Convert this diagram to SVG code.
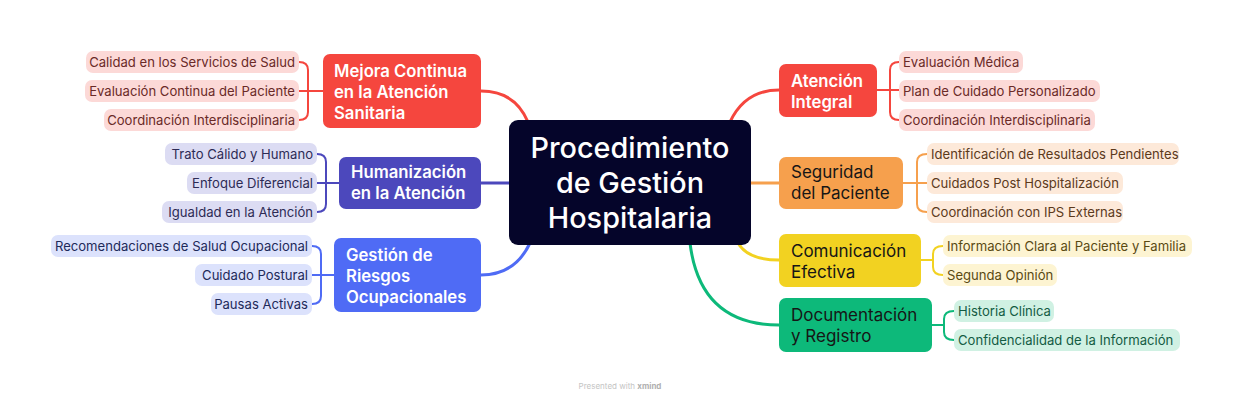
<svg xmlns="http://www.w3.org/2000/svg" width="1242" height="402" viewBox="0 0 1242 402">
<style>
text{font-family:Inter,"Open Sans",sans-serif}
.ct{font-size:28.8px;fill:#fff;font-weight:500;text-anchor:middle}
.mt{font-size:16.7px;font-weight:600;fill:#fff}
.md{font-size:17px;fill:#161616}
.ch{font-size:13.1px}
.lc{fill:none;stroke-width:3;stroke-linecap:round}
.bc{fill:none;stroke-width:2}
.r{stroke:#F5463E}.i{stroke:#4C48BC}.b{stroke:#4F6BF5}.o{stroke:#F6A04D}.y{stroke:#F2D221}.g{stroke:#0DB97A}
.pr{fill:#FCD9D7}.tr{fill:#6A2A27}
.pi{fill:#DCDCF3}.ti{fill:#2D2B55}
.pb{fill:#DCE2FC}.tb{fill:#1E2A5A}
.po{fill:#FDE9D9}.to{fill:#5C3A1C}
.py{fill:#FDF4D2}.ty{fill:#5A4A12}
.pg{fill:#D0F1E3}.tg{fill:#145C43}
</style>
<rect width="1242" height="402" fill="#fff"/>
<g id="connectors">
<path class="lc r" d="M481 91 Q515 91 528 122"/>
<path class="lc i" d="M481 183 L509 183"/>
<path class="lc b" d="M481 275 Q515 275 530 243"/>
<path class="lc r" d="M730 122 Q745 90 779 90"/>
<path class="lc o" d="M751 183 L779 183"/>
<path class="lc y" d="M738 243 Q748 260 779 260"/>
<path class="lc g" d="M690 243 Q700 325 779 325"/>
<path class="bc r" d="M323 91 L299 91 M299 62 Q308 62 308 70 L308 112 Q308 120 299 120"/>
<path class="bc i" d="M339 183 L317 183 M317 154 Q326 154 326 162 L326 204 Q326 212 317 212"/>
<path class="bc b" d="M334 275 L312 275 M312 246 Q321 246 321 254 L321 296 Q321 304 312 304"/>
<path class="bc r" d="M877 90 L899 90 M899 62 Q890 62 890 70 L890 112 Q890 120 899 120"/>
<path class="bc o" d="M903 183 L927 183 M927 154 Q917 154 917 162 L917 204 Q917 212 927 212"/>
<path class="bc y" d="M921 260 L933 260 M943 246 Q933 246 933 254 L933 267 Q933 275 943 275"/>
<path class="bc g" d="M932 325 L943 325 M954 311 Q944 311 944 319 L944 332 Q944 340 954 340"/>
</g>
<g id="central">
<rect x="509" y="120" width="242" height="125" rx="9" fill="#05052A"/>
<text class="ct" x="630" y="158">Procedimiento</text>
<text class="ct" x="630" y="193">de Gestión</text>
<text class="ct" x="630" y="228">Hospitalaria</text>
</g>
<g id="mejora">
<rect x="323" y="54" width="158" height="74" rx="7" fill="#F5463E"/>
<text class="mt" x="334" y="77">Mejora Continua</text>
<text class="mt" x="334" y="98">en la Atención</text>
<text class="mt" x="334" y="119">Sanitaria</text>
</g>
<g id="mejora-1"><rect class="pr" x="86" y="51" width="213" height="22" rx="7"/><text class="ch tr" x="295" y="67" text-anchor="end">Calidad en los Servicios de Salud</text></g>
<g id="mejora-2"><rect class="pr" x="85" y="80" width="214" height="22" rx="7"/><text class="ch tr" x="295" y="96" text-anchor="end">Evaluación Continua del Paciente</text></g>
<g id="mejora-3"><rect class="pr" x="104" y="109" width="195" height="22" rx="7"/><text class="ch tr" x="295" y="125" text-anchor="end">Coordinación Interdisciplinaria</text></g>
<g id="humanizacion">
<rect x="339" y="157" width="142" height="52" rx="7" fill="#4C48BC"/>
<text class="mt" x="351" y="178">Humanización</text>
<text class="mt" x="351" y="199">en la Atención</text>
</g>
<g id="human-1"><rect class="pi" x="165" y="143" width="152" height="22" rx="7"/><text class="ch ti" x="313" y="159" text-anchor="end">Trato Cálido y Humano</text></g>
<g id="human-2"><rect class="pi" x="187" y="172" width="130" height="22" rx="7"/><text class="ch ti" x="313" y="188" text-anchor="end">Enfoque Diferencial</text></g>
<g id="human-3"><rect class="pi" x="162" y="201" width="155" height="22" rx="7"/><text class="ch ti" x="313" y="217" text-anchor="end">Igualdad en la Atención</text></g>
<g id="riesgos">
<rect x="334" y="238" width="147" height="74" rx="7" fill="#4F6BF5"/>
<text class="mt" x="346" y="261">Gestión de</text>
<text class="mt" x="346" y="282">Riesgos</text>
<text class="mt" x="346" y="303">Ocupacionales</text>
</g>
<g id="riesgos-1"><rect class="pb" x="51" y="235" width="261" height="22" rx="7"/><text class="ch tb" x="308" y="251" text-anchor="end">Recomendaciones de Salud Ocupacional</text></g>
<g id="riesgos-2"><rect class="pb" x="195" y="264" width="117" height="22" rx="7"/><text class="ch tb" x="308" y="280" text-anchor="end">Cuidado Postural</text></g>
<g id="riesgos-3"><rect class="pb" x="211" y="293" width="101" height="22" rx="7"/><text class="ch tb" x="308" y="309" text-anchor="end">Pausas Activas</text></g>
<g id="atencion">
<rect x="779" y="64" width="98" height="53" rx="7" fill="#F5463E"/>
<text class="mt" x="791" y="87">Atención</text>
<text class="mt" x="791" y="108">Integral</text>
</g>
<g id="atencion-1"><rect class="pr" x="899" y="51" width="124" height="22" rx="7"/><text class="ch tr" x="903" y="67">Evaluación Médica</text></g>
<g id="atencion-2"><rect class="pr" x="899" y="80" width="201" height="22" rx="7"/><text class="ch tr" x="903" y="96">Plan de Cuidado Personalizado</text></g>
<g id="atencion-3"><rect class="pr" x="899" y="109" width="196" height="22" rx="7"/><text class="ch tr" x="903" y="125">Coordinación Interdisciplinaria</text></g>
<g id="seguridad">
<rect x="779" y="157" width="124" height="52" rx="7" fill="#F6A04D"/>
<text class="md" x="791" y="178">Seguridad</text>
<text class="md" x="791" y="199">del Paciente</text>
</g>
<g id="seg-1"><rect class="po" x="927" y="143" width="252" height="22" rx="7"/><text class="ch to" x="931" y="159">Identificación de Resultados Pendientes</text></g>
<g id="seg-2"><rect class="po" x="927" y="172" width="196" height="22" rx="7"/><text class="ch to" x="931" y="188">Cuidados Post Hospitalización</text></g>
<g id="seg-3"><rect class="po" x="927" y="201" width="196" height="22" rx="7"/><text class="ch to" x="931" y="217">Coordinación con IPS Externas</text></g>
<g id="comunicacion">
<rect x="779" y="234" width="142" height="53" rx="7" fill="#F2D221"/>
<text class="md" x="791" y="257">Comunicación</text>
<text class="md" x="791" y="278">Efectiva</text>
</g>
<g id="com-1"><rect class="py" x="943" y="235" width="249" height="22" rx="7"/><text class="ch ty" x="947" y="251">Información Clara al Paciente y Familia</text></g>
<g id="com-2"><rect class="py" x="943" y="264" width="114" height="22" rx="7"/><text class="ch ty" x="947" y="280">Segunda Opinión</text></g>
<g id="documentacion">
<rect x="779" y="298" width="153" height="54" rx="7" fill="#0DB97A"/>
<text class="md" x="791" y="321">Documentación</text>
<text class="md" x="791" y="342">y Registro</text>
</g>
<g id="doc-1"><rect class="pg" x="954" y="300" width="100" height="22" rx="7"/><text class="ch tg" x="958" y="316">Historia Clínica</text></g>
<g id="doc-2"><rect class="pg" x="954" y="329" width="226" height="22" rx="7"/><text class="ch tg" x="958" y="345">Confidencialidad de la Información</text></g>
<text x="620" y="389" text-anchor="middle" style="font-size:8px;fill:#c4c4c4">Presented with <tspan font-weight="bold" fill="#b0b0b0">xmind</tspan></text>
</svg>
